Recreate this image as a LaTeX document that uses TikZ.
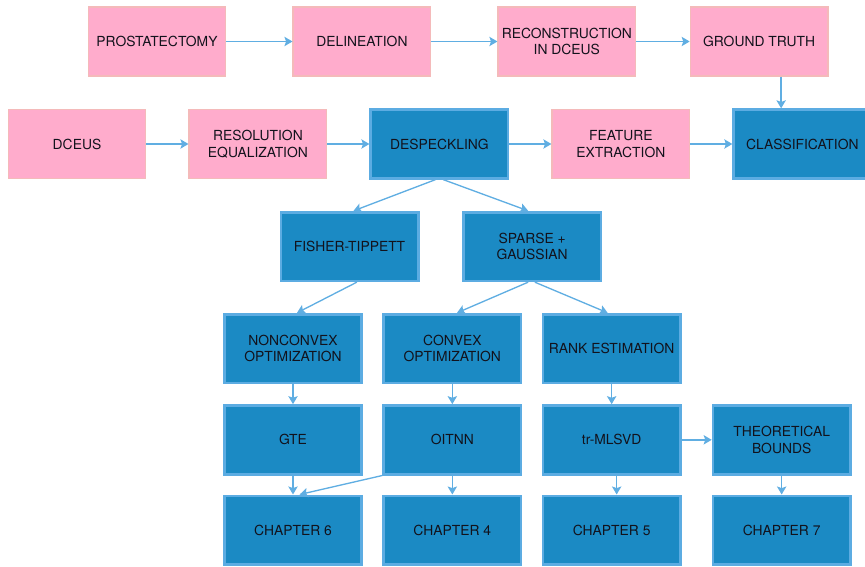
\documentclass[tikz,border=0pt]{standalone}
\usepackage{fontspec}
\setmainfont{TeX Gyre Heros}
\usetikzlibrary{chains,positioning,arrows.meta}

\definecolor{pinkfill}{RGB}{255,172,204}
\definecolor{pinkline}{RGB}{244,186,186}
\definecolor{bluefill}{RGB}{27,138,196}
\definecolor{blueline}{RGB}{92,172,226}
\definecolor{arrowcol}{RGB}{96,174,226}
\definecolor{textcol}{RGB}{18,18,28}

\begin{document}
\begin{tikzpicture}[
	x=0.75pt,y=-0.75pt,
	box/.style={
	  minimum width=103pt,
	  minimum height=51.5pt,
	  align=center,
	  inner sep=2pt,
	  text=textcol,
	  font=\fontsize{10.4}{12.5}\selectfont
	},
	pinkbox/.style={
	  box,
	  draw=pinkline,
	  fill=pinkfill,
	  line width=1.2pt
	},
	bluebox/.style={
	  box,
	  draw=blueline,
	  fill=bluefill,
	  line width=2pt
	},
	arr/.style={
	  draw=arrowcol,
	  line width=1pt,
	  -{Stealth[length=6pt,width=7pt,inset=1.2pt]}
	}
]
\useasboundingbox (0,0) rectangle (865,567);

% top row
\begin{scope}[start chain=1 going right,node distance=49.5pt]
\node[pinkbox,on chain=1] at (157,41.5)
  (prost) {PROSTATECTOMY};
\node[pinkbox,on chain=1,join=by arr]
  (delin) {DELINEATION};
\node[pinkbox,on chain=1,join=by arr]
  (recon) {RECONSTRUCTION\\IN DCEUS};
\end{scope}
\node[pinkbox,right=40pt of recon]
  (truth) {GROUND TRUTH};
\draw[arr] (recon) -- (truth);

% second row
\begin{scope}[start chain=2 going right,node distance=31.5pt]
\node[pinkbox,on chain=2] at (77,144)
  (dceus) {DCEUS};
\node[pinkbox,on chain=2,join=by arr]
  (resol) {RESOLUTION\\EQUALIZATION};
\node[bluebox,on chain=2,join=by arr]
  (despeck) {DESPECKLING};
\node[pinkbox,on chain=2,join=by arr]
  (feat) {FEATURE\\EXTRACTION};
\node[bluebox,on chain=2,join=by arr]
  (classif) {CLASSIFICATION};
\end{scope}

\draw[arr] ([xshift=16.5pt]truth.south) -- ([xshift=16.5pt]truth.south |- classif.north);

% models
\node[bluebox] at (349.5,246.5) (fisher) {FISHER-TIPPETT};
\node[bluebox,right=32pt of fisher] (sparse) {SPARSE +\\GAUSSIAN};

\draw[arr] ([xshift=-3pt]despeck.south) -- ([xshift=3pt]fisher.north);
\draw[arr] ([xshift=3pt]despeck.south) -- ([xshift=-3pt]sparse.north);

% optimization
\node[bluebox] at (293,348.5) (nonconv) {NONCONVEX\\OPTIMIZATION};
\node[bluebox,right=14.5pt of nonconv] (conv) {CONVEX\\OPTIMIZATION};
\node[bluebox,right=14.5pt of conv] (rank) {RANK ESTIMATION};

\draw[arr] ([xshift=5.5pt]fisher.south) -- ([xshift=3pt]nonconv.north);
\draw[arr] ([xshift=-3pt]sparse.south) -- ([xshift=3.5pt]conv.north);
\draw[arr] ([xshift=2pt]sparse.south) -- ([xshift=-3pt]rank.north);

% algorithms
\node[bluebox,below=15pt of nonconv] (gte) {GTE};
\node[bluebox,below=15pt of conv] (oitnn) {OITNN};
\node[bluebox,below=15pt of rank] (mlsvd) {tr-MLSVD};
\node[bluebox,right=22.5pt of mlsvd] (bounds) {THEORETICAL\\BOUNDS};

\draw[arr] (nonconv) -- (gte);
\draw[arr] (conv) -- (oitnn);
\draw[arr] (rank) -- (mlsvd);
\draw[arr] (mlsvd) -- (bounds);

% chapters
\node[bluebox,below=14.25pt of gte] (ch6) {CHAPTER 6};
\node[bluebox,below=14.25pt of oitnn] (ch4) {CHAPTER 4};
\node[bluebox,below=14.25pt of mlsvd] (ch5) {CHAPTER 5};
\node[bluebox,below=14.25pt of bounds] (ch7) {CHAPTER 7};

\draw[arr] (gte) -- (ch6);
\draw[arr] (oitnn.south west) -- ([xshift=5pt]ch6.north);
\draw[arr] (oitnn) -- (ch4);
\draw[arr] ([xshift=3.75pt]mlsvd.south) -- ([xshift=3.75pt]ch5.north);
\draw[arr] (bounds) -- (ch7);

\end{tikzpicture}
\end{document}
